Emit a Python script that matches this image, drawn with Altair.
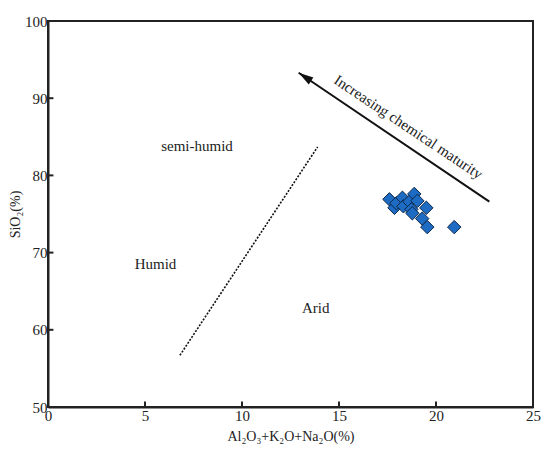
import altair as alt
import pandas as pd

# Sample points (Al2O3+K2O+Na2O %, SiO2 %)
pt_x = [17.60, 17.86, 17.96, 18.27, 18.32, 18.63, 18.73, 18.88, 19.04, 18.78, 19.50, 19.29, 19.55, 20.94]
pt_y = [76.9, 75.8, 76.4, 77.1, 76.0, 76.6, 75.6, 77.6, 76.7, 75.1, 75.8, 74.4, 73.3, 73.3]

# Dotted boundary line
bound_x = [6.8, 13.9]
bound_y = [56.7, 83.7]

# Arrow (tail -> tip)
arrow_x = [22.75, 12.92]
arrow_y = [76.6, 93.3]

# Region labels
lab_text = ["semi-humid", "Humid", "Arid"]
lab_x = [7.68, 5.54, 13.8]
lab_y = [83.85, 68.5, 62.8]

arrow_label = ["Increasing chemical maturity"]
arrow_label_x = [18.58]
arrow_label_y = [86.27]

x_ticks = [0, 5, 10, 15, 20, 25]
y_ticks = [50, 60, 70, 80, 90, 100]

FONT = "Liberation Serif"
xs = alt.Scale(domain=[0, 25], nice=False, zero=False)
ys = alt.Scale(domain=[50, 100], nice=False, zero=False)

pts = pd.DataFrame({"x": pt_x, "y": pt_y})
bound = pd.DataFrame({"x": bound_x, "y": bound_y, "o": [0, 1]})
arrow = pd.DataFrame({"x": arrow_x, "y": arrow_y, "o": [0, 1]})
tip = pd.DataFrame({"x": [arrow_x[1]], "y": [arrow_y[1]]})
labs = pd.DataFrame({"x": lab_x, "y": lab_y, "t": lab_text})
alab = pd.DataFrame({"x": arrow_label_x, "y": arrow_label_y, "t": arrow_label})
xt = pd.DataFrame({"v": x_ticks[1:-1]})
yt = pd.DataFrame({"v": y_ticks[1:-1]})

X = alt.X("x:Q", scale=xs, axis=alt.Axis(values=x_ticks, title="Al₂O₃+K₂O+Na₂O(%)", tickSize=0,
          labelFlush=False, labelPadding=1, titlePadding=6, grid=False))
Y = alt.Y("y:Q", scale=ys, axis=alt.Axis(values=y_ticks, title="SiO₂(%)", tickSize=0,
          labelFlush=False, labelPadding=1, titlePadding=2, grid=False))

points = alt.Chart(pts).mark_point(shape="diamond", filled=True, size=180, fill="#1d6bc3",
                                   stroke="#0c2747", strokeWidth=1, opacity=1).encode(x=X, y=Y)

bline = alt.Chart(bound).mark_line(color="#111", strokeWidth=1.6, strokeDash=[2, 1.5]).encode(
    x=alt.X("x:Q", scale=xs), y=alt.Y("y:Q", scale=ys), order="o:Q")

aline = alt.Chart(arrow).mark_line(color="#111", strokeWidth=2).encode(
    x=alt.X("x:Q", scale=xs), y=alt.Y("y:Q", scale=ys), order="o:Q")

ahead = alt.Chart(tip).mark_point(shape="M0,0L-0.36,1.3L0.36,1.3Z", filled=True, size=529,
                                  fill="#111", strokeWidth=0, opacity=1, angle=303.8).encode(
    x=alt.X("x:Q", scale=xs), y=alt.Y("y:Q", scale=ys))

texts = alt.Chart(labs).mark_text(font=FONT, fontSize=15, color="#222").encode(
    x=alt.X("x:Q", scale=xs), y=alt.Y("y:Q", scale=ys), text="t:N")

atext = alt.Chart(alab).mark_text(font=FONT, fontSize=15, color="#222", angle=33.7).encode(
    x=alt.X("x:Q", scale=xs), y=alt.Y("y:Q", scale=ys), text="t:N")

xtick = alt.Chart(xt).mark_rule(color="#222", strokeWidth=2).encode(
    x=alt.X("v:Q", scale=xs), y=alt.datum(50, scale=ys), y2=alt.datum(50.7))
ytick = alt.Chart(yt).mark_rule(color="#222", strokeWidth=2).encode(
    y=alt.Y("v:Q", scale=ys), x=alt.datum(0, scale=xs), x2=alt.datum(0.28))

chart = alt.layer(bline, aline, ahead, texts, atext, xtick, ytick, points).properties(
    width=485, height=386,
    background="white",
    autosize=alt.AutoSizeParams(type="none"),
    padding={"left": 40, "top": 13, "right": 9, "bottom": 38},
).configure_view(stroke="#222", strokeWidth=2).configure_axis(
    domainColor="#222", domainWidth=2, labelFont=FONT, labelFontSize=15, labelColor="#222",
    titleFont=FONT, titleFontSize=14, titleFontWeight="normal", titleColor="#222",
)

chart.save("out.html", embed_options={"renderer": "svg", "actions": False})
